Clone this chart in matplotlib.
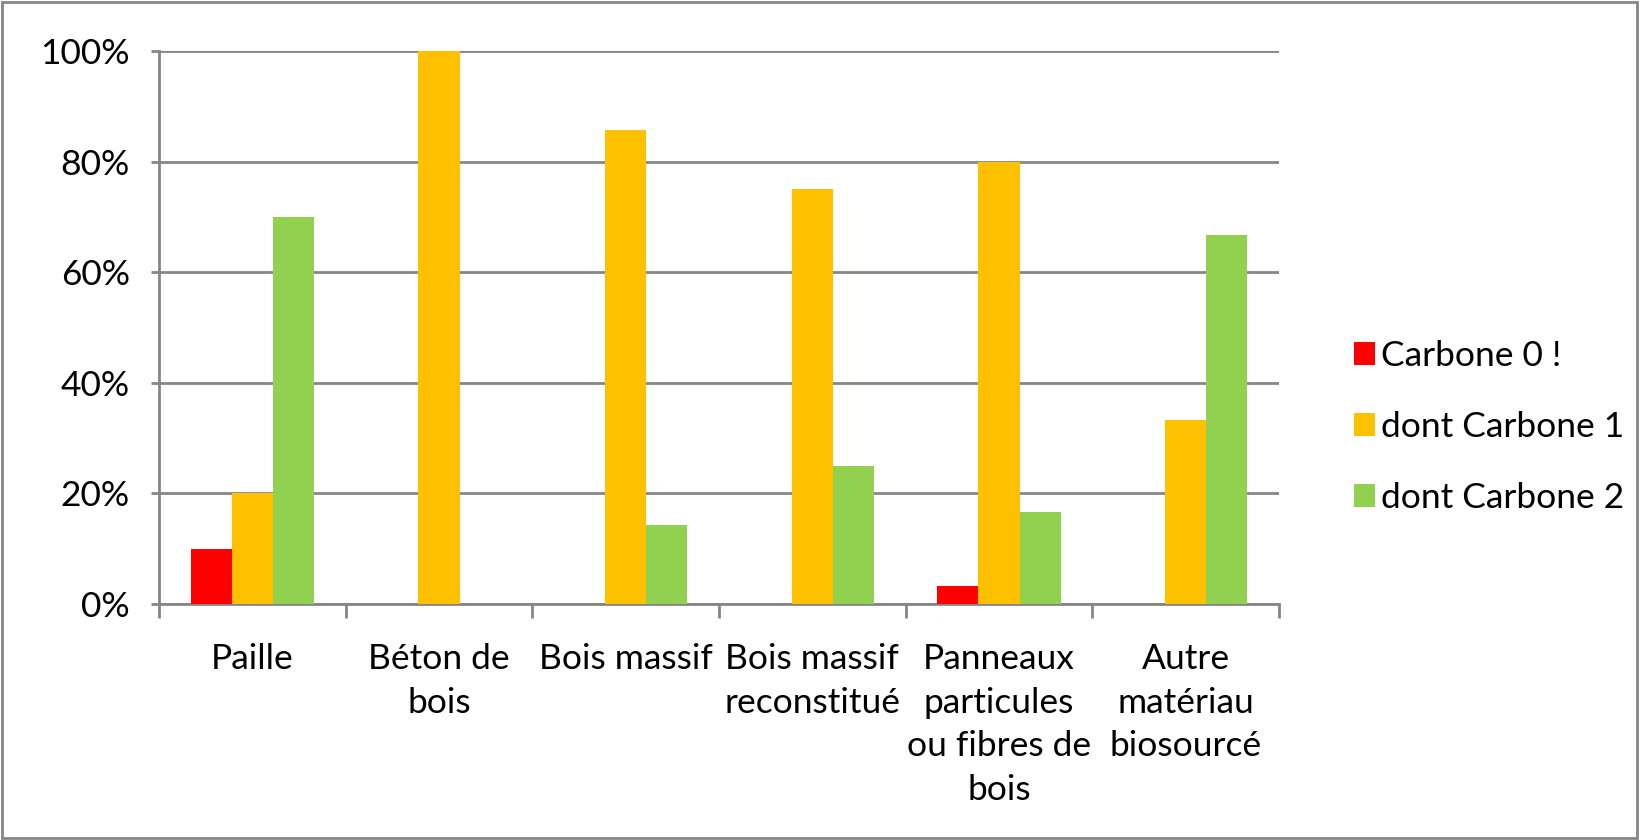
import matplotlib
matplotlib.use("Agg")
from matplotlib import pyplot as plt
from matplotlib.patches import Patch, Rectangle
from matplotlib.ticker import FixedLocator, PercentFormatter
import numpy as np

categories = ["Paille", "Béton de\nbois", "Bois massif", "Bois massif\nreconstitué",
              "Panneaux\nparticules\nou fibres de\nbois", "Autre\nmatériau\nbiosourcé"]
series_names = ["Carbone 0 !", "dont Carbone 1", "dont Carbone 2"]
carbone_0 = [10.0, 0.0, 0.0, 0.0, 3.3, 0.0]
carbone_1 = [20.0, 100.0, 85.7, 75.0, 80.0, 33.3]
carbone_2 = [70.0, 0.0, 14.3, 25.0, 16.7, 66.7]
colors = ["#FF0000", "#FFC000", "#92D050"]

grey = "#868686"
plt.rcParams["font.family"] = ["Lato", "DejaVu Sans"]
plt.rcParams["font.size"] = 25.5

fig = plt.figure(figsize=(16.39, 8.4), dpi=100)
ax = fig.add_axes([159 / 1639, 236 / 840, 1120 / 1639, 553 / 840])

x = np.arange(len(categories))
w = 0.22
for k, (vals, col) in enumerate(zip([carbone_0, carbone_1, carbone_2], colors)):
    ax.bar(x + (k - 1) * w, vals, width=w, color=col, zorder=3)

ax.set_xlim(-0.5, len(categories) - 0.5)
ax.set_ylim(0, 100)
ax.set_yticks(np.arange(0, 101, 20))
ax.yaxis.set_major_formatter(PercentFormatter(decimals=0))
ax.yaxis.grid(True, color=grey, linewidth=2, zorder=0)

ax.set_xticks(x)
ax.set_xticklabels(categories, linespacing=1.45)
ax.xaxis.set_minor_locator(FixedLocator(np.arange(-0.5, len(categories), 1)))
ax.tick_params(axis="x", which="major", length=0, pad=28)
ax.tick_params(axis="x", which="minor", length=10, width=2, color=grey)
ax.tick_params(axis="y", length=6, width=2, color=grey, pad=15)

for side in ["top", "right"]:
    ax.spines[side].set_visible(False)
for side in ["left", "bottom"]:
    ax.spines[side].set_color(grey)
    ax.spines[side].set_linewidth(2)

handles = [Patch(facecolor=c, edgecolor="none") for c in colors]
fig.legend(handles, series_names, loc="center left", bbox_to_anchor=(1354 / 1639, (840 - 427) / 840),
           frameon=False, handlelength=0.6, handleheight=0.6, handletextpad=0.15,
           labelspacing=1.1, borderpad=0, borderaxespad=0)

# outer chart border
fig.patches.append(Rectangle((0.001, 0.002), 0.998, 0.996, transform=fig.transFigure,
                             fill=False, edgecolor=grey, linewidth=2))

plt.savefig("out.png", dpi=100)
plt.close()
